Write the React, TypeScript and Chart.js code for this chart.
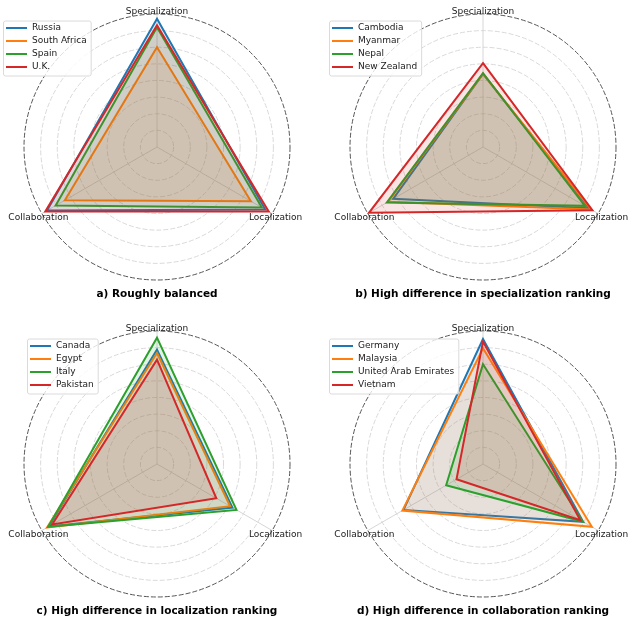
import React, { useEffect, useRef } from 'react';
import { Chart, registerables } from 'chart.js';

Chart.register(...registerables);

// ---------- data ----------
const axisLabels = ['Specialization', 'Localization', 'Collaboration'];
const seriesColors = ['#1f77b4', '#ff7f0e', '#2ca02c', '#d62728'];
const ringTicksMax = 100;
const ringStep = 12.5;

// a) Roughly balanced  [Specialization, Localization, Collaboration]
const titleA = 'a) Roughly balanced';
const countriesA = ['Russia', 'South Africa', 'Spain', 'U.K.'];
const russia = [96.5, 94, 95.5];
const southAfrica = [75, 81.5, 80];
const spain = [90, 91, 88];
const uk = [91.5, 97, 97];

// b) High difference in specialization ranking
const titleB = 'b) High difference in specialization ranking';
const countriesB = ['Cambodia', 'Myanmar', 'Nepal', 'New Zealand'];
const cambodia = [55, 92, 78];
const myanmar = [55, 94, 82.5];
const nepal = [55.5, 88.5, 83.5];
const newZealand = [63, 95, 99];

// c) High difference in localization ranking
const titleC = 'c) High difference in localization ranking';
const countriesC = ['Canada', 'Egypt', 'Italy', 'Pakistan'];
const canada = [86, 65.5, 94];
const egypt = [83.5, 63.5, 95.5];
const italy = [95, 69, 94.5];
const pakistan = [78.5, 51.5, 91];

// d) High difference in collaboration ranking
const titleD = 'd) High difference in collaboration ranking';
const countriesD = ['Germany', 'Malaysia', 'United Arab Emirates', 'Vietnam'];
const germany = [94, 87, 69];
const malaysia = [87, 94.5, 70];
const uae = [75, 86.5, 32];
const vietnam = [92, 84.5, 23];

// ---------- layout ----------
const panels = [
  { title: titleA, countries: countriesA, values: [russia, southAfrica, spain, uk], x: 0, y: 0,
    pad: { left: 24, right: 24, top: 14, bottom: 31 }, legend: { x: 3, y: 20.5 } },
  { title: titleB, countries: countriesB, values: [cambodia, myanmar, nepal, newZealand], x: 314, y: 0,
    pad: { left: 36, right: 12, top: 14, bottom: 31 }, legend: { x: 15, y: 20.5 } },
  { title: titleC, countries: countriesC, values: [canada, egypt, italy, pakistan], x: 0, y: 311,
    pad: { left: 24, right: 24, top: 20, bottom: 25 }, legend: { x: 27, y: 27.5 } },
  { title: titleD, countries: countriesD, values: [germany, malaysia, uae, vietnam], x: 314, y: 311,
    pad: { left: 36, right: 12, top: 20, bottom: 25 }, legend: { x: 15, y: 27.5 } },
];

const FONT = '"DejaVu Sans", Verdana, sans-serif';

function rgba(hex: string, a: number) {
  const n = parseInt(hex.slice(1), 16);
  return `rgba(${(n >> 16) & 255},${(n >> 8) & 255},${n & 255},${a})`;
}

const overlayPlugin = {
  id: 'overlay',
  afterDraw(chart: any, _args: any, opts: any) {
    const ctx = chart.ctx as CanvasRenderingContext2D;
    const scale = chart.scales.r;
    const R = scale.drawingArea;
    ctx.save();
    ctx.fillStyle = '#1a1a1a';
    ctx.font = `9px ${FONT}`;
    ctx.textAlign = 'center';
    ctx.textBaseline = 'middle';
    axisLabels.forEach((lab, i) => {
      const p = scale.getPointPosition(i, R + 4);
      ctx.fillText(lab, p.x, p.y + 2);
    });
    ctx.fillStyle = '#000';
    ctx.font = `bold 10.5px ${FONT}`;
    ctx.fillText(opts.title, scale.xCenter, scale.yCenter + R + 14);

    // legend
    const names: string[] = opts.names;
    ctx.font = `9px ${FONT}`;
    const tw = Math.max(...names.map((n) => ctx.measureText(n).width));
    const rowH = 13;
    const bx = opts.lx, by = opts.ly;
    const bw = tw + 33, bh = rowH * names.length + 3;
    ctx.beginPath();
    (ctx as any).roundRect(bx + 0.5, by + 0.5, bw, bh, 2);
    ctx.fillStyle = 'rgba(255,255,255,0.8)';
    ctx.fill();
    ctx.strokeStyle = '#dadada';
    ctx.lineWidth = 1;
    ctx.stroke();
    names.forEach((n, i) => {
      const y = by + 7.5 + i * rowH;
      ctx.beginPath();
      ctx.strokeStyle = seriesColors[i];
      ctx.lineWidth = 2;
      ctx.moveTo(bx + 3, y);
      ctx.lineTo(bx + 24, y);
      ctx.stroke();
      ctx.fillStyle = '#1a1a1a';
      ctx.textAlign = 'left';
      ctx.textBaseline = 'middle';
      ctx.fillText(n, bx + 29, y);
    });
    ctx.restore();
  },
};

function RadarPanel({ panel }: { panel: any }) {
  const ref = useRef<HTMLCanvasElement>(null);
  useEffect(() => {
    if (!ref.current) return;
    const chart = new Chart(ref.current, {
      type: 'radar',
      data: {
        labels: axisLabels,
        datasets: panel.values.map((v: number[], i: number) => ({
          label: panel.countries[i],
          data: v,
          borderColor: seriesColors[i],
          backgroundColor: rgba(seriesColors[i], 0.12),
          borderWidth: 2,
          pointRadius: 0,
          pointHoverRadius: 0,
          fill: 'origin',
          order: panel.values.length - i,
        })),
      },
      options: {
        animation: false,
        responsive: false,
        events: [],
        layout: { padding: panel.pad },
        plugins: {
          legend: { display: false },
          tooltip: { enabled: false },
          title: { display: false },
          overlay: { title: panel.title, names: panel.countries, lx: panel.legend.x, ly: panel.legend.y },
        } as any,
        scales: {
          r: {
            min: 0,
            max: ringTicksMax,
            ticks: { display: false, stepSize: ringStep },
            pointLabels: { display: false },
            grid: {
              circular: true,
              color: (c: any) => (c.index === Math.round(ringTicksMax / ringStep) ? '#555555' : '#d9d9d9'),
              lineWidth: 1,
            },
            border: { dash: [5, 2] },
            angleLines: { color: '#d6d6d6', lineWidth: 1 },
          } as any,
        },
      },
      plugins: [overlayPlugin as any],
    });
    return () => chart.destroy();
  }, [panel]);
  return (
    <canvas
      ref={ref}
      width={314}
      height={311}
      style={{ position: 'absolute', left: panel.x, top: panel.y, width: 314, height: 311 }}
    />
  );
}

export default function App() {
  return (
    <div style={{ position: 'absolute', left: 0, top: 0, width: 628, height: 622, background: '#fff' }}>
      {panels.map((p, i) => (
        <RadarPanel key={i} panel={p} />
      ))}
    </div>
  );
}
